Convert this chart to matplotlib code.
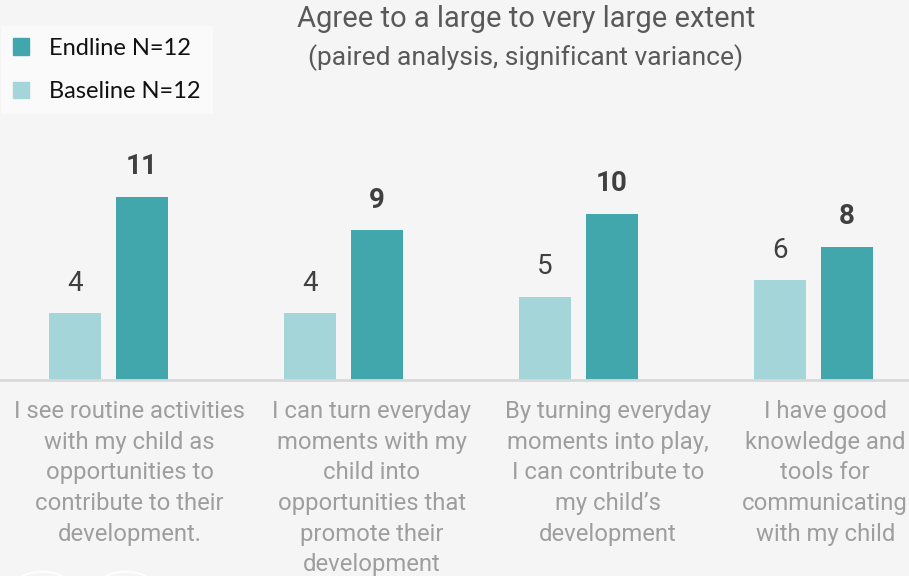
import numpy as np
import matplotlib
matplotlib.use('Agg')
import matplotlib.pyplot as plt
from matplotlib.patches import Circle, Patch

# Data
categories = [
    "I see routine activities\nwith my child as\nopportunities to\ncontribute to their\ndevelopment.",
    "I can turn everyday\nmoments with my\nchild into\nopportunities that\npromote their\ndevelopment",
    "By turning everyday\nmoments into play,\nI can contribute to\nmy child\u2019s\ndevelopment",
    "I have good\nknowledge and\ntools for\ncommunicating\nwith my child",
]
baseline = [4, 4, 5, 6]
endline = [11, 9, 10, 8]
baseline_label = "Baseline N=12"
endline_label = "Endline N=12"
title = "Agree to a large to very large extent"
subtitle = "(paired analysis, significant variance)"

# Style
bg = '#F5F5F5'
c_base = '#A3D5D9'
c_end = '#41A7AD'
label_offsets = [0.09, 0.12, 0.125, 0.05]

W, H = 909, 576
fig = plt.figure(figsize=(W / 100, H / 100), dpi=100, facecolor=bg)
ax = fig.add_axes([0, (H - 380) / H, 1, 250 / H])
ax.set_facecolor(bg)

x = np.arange(len(categories))
bw = 0.221
off = 0.143
b1 = ax.bar(x - off, baseline, bw, color=c_base, label=baseline_label)
b2 = ax.bar(x + off, endline, bw, color=c_end, label=endline_label)

ax.set_xlim(-108.5 / 235, (W - 108.5) / 235)
ax.set_ylim(0, 250 / 16.63)

for rect, v in zip(b1, baseline):
    ax.annotate(str(v), (rect.get_x() + rect.get_width() / 2, v), xytext=(0, 12),
                textcoords='offset points', ha='center', va='bottom',
                fontsize=20, color='#404040', family='Roboto')
for rect, v in zip(b2, endline):
    ax.annotate(str(v), (rect.get_x() + rect.get_width() / 2, v), xytext=(0, 12),
                textcoords='offset points', ha='center', va='bottom',
                fontsize=20, color='#404040', family='Roboto', fontweight='bold')

for i, lab in enumerate(categories):
    ax.text(i + label_offsets[i], -1.22, lab, ha='center', va='top', fontsize=17.2,
            color='#9E9E9E', family='Roboto', linespacing=1.42, clip_on=False)

for s in ['top', 'right', 'left']:
    ax.spines[s].set_visible(False)
ax.spines['bottom'].set_color('#D9D9D9')
ax.spines['bottom'].set_linewidth(2)
ax.set_xticks([])
ax.set_yticks([])

fig.text(526 / W, 1 - 19 / H, title, ha='center', va='center', fontsize=21,
         color='#595959', family='Roboto')
fig.text(526 / W, 1 - 58 / H, subtitle, ha='center', va='center', fontsize=19,
         color='#595959', family='Roboto')

leg = fig.legend(handles=[Patch(color=c_end, label=endline_label),
                          Patch(color=c_base, label=baseline_label)],
                 loc='upper left', bbox_to_anchor=(-11 / W, 1 - 14 / H),
                 frameon=True, fancybox=False, facecolor='#FAFAFA', edgecolor='none',
                 framealpha=1, handlelength=0.7, handleheight=0.7, handletextpad=0.85,
                 labelspacing=0.95, borderpad=0.5,
                 prop={'family': 'Lato', 'size': 17})
for t in leg.get_texts():
    t.set_color('#111111')

# faint circles at the lower edge
for cx in [42, 126]:
    fig.patches.append(Circle((cx / W, (H - 598) / H), 26 / W, transform=fig.transFigure,
                              facecolor='#D0D0D0', edgecolor='none'))
    fig.patches.append(Circle((cx / W, (H - 592) / H), 32 / W, transform=fig.transFigure,
                              facecolor='none', edgecolor='white', linewidth=1.2))

fig.savefig('out.png', dpi=100, facecolor=bg)
